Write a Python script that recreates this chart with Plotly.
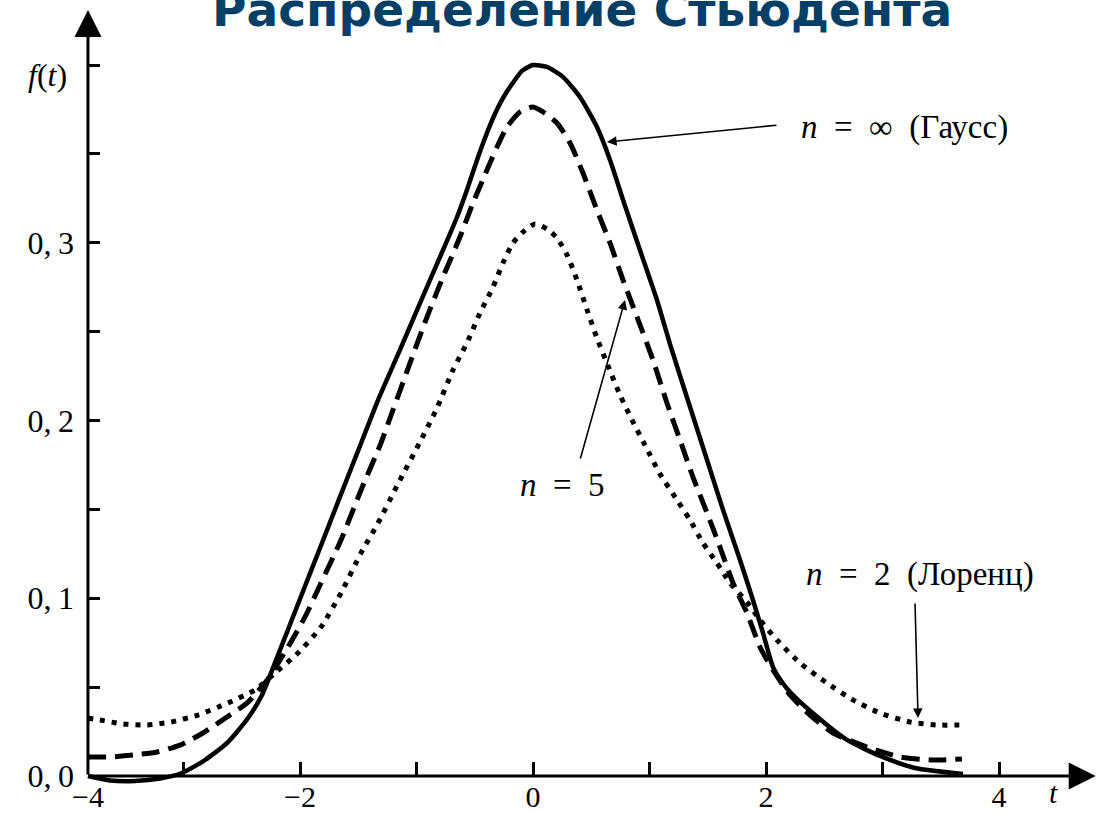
import plotly.graph_objects as go

# Student's t density curves: t values and f(t) for each series
t_gauss = [-3.820, -3.631, -3.416, -3.202, -3.013, -2.815, -2.618, -2.446, -2.326, -2.215,
           -2.000, -1.828, -1.657, -1.485, -1.330, -1.142, -0.970, -0.798, -0.652, -0.567,
           -0.489, -0.412, -0.335, -0.258, -0.180, -0.094, 0.000, 0.120, 0.258, 0.403, 0.549,
           0.661, 0.773, 0.918, 1.064, 1.176, 1.348, 1.494, 1.631, 1.777, 1.888,
           1.974, 2.060, 2.137, 2.206, 2.421, 2.695, 2.979, 3.279, 3.691]
f_gauss = [0.0000, -0.0025, -0.0028, -0.0014, 0.0017, 0.0090, 0.0191, 0.0326, 0.0456, 0.0636,
           0.0996, 0.1283, 0.1570, 0.1857, 0.2115, 0.2397, 0.2661, 0.2920, 0.3145, 0.3297,
           0.3449, 0.3589, 0.3713, 0.3814, 0.3893, 0.3967, 0.4000, 0.3989, 0.3932, 0.3820, 0.3651,
           0.3466, 0.3241, 0.2959, 0.2678, 0.2430, 0.2076, 0.1778, 0.1497, 0.1215, 0.0990,
           0.0805, 0.0613, 0.0529, 0.0473, 0.0343, 0.0203, 0.0113, 0.0045, 0.0011]

t_n5 = [-3.820, -3.631, -3.433, -3.227, -3.030, -2.833, -2.627, -2.446, -2.275, -2.103,
        -1.957, -1.820, -1.648, -1.476, -1.305, -1.202, -1.056, -0.910, -0.773, -0.627,
        -0.515, -0.395, -0.309, -0.223, -0.112, 0.000, 0.086, 0.206, 0.318, 0.429,
        0.549, 0.661, 0.773, 0.893, 1.030, 1.150, 1.262, 1.373, 1.494, 1.605,
        1.717, 1.837, 1.948, 2.060, 2.206, 2.378, 2.575, 2.867, 3.150, 3.433, 3.682]
f_n5 = [0.0107, 0.0107, 0.0118, 0.0135, 0.0174, 0.0242, 0.0332, 0.0416, 0.0546, 0.0726,
        0.0895, 0.1086, 0.1328, 0.1609, 0.1873, 0.2059, 0.2323, 0.2582, 0.2807, 0.3032,
        0.3224, 0.3409, 0.3539, 0.3651, 0.3736, 0.3764, 0.3736, 0.3674, 0.3561, 0.3392,
        0.3184, 0.2999, 0.2790, 0.2582, 0.2340, 0.2098, 0.1890, 0.1682, 0.1480, 0.1288,
        0.1086, 0.0917, 0.0726, 0.0596, 0.0456, 0.0343, 0.0242, 0.0163, 0.0107, 0.0090, 0.0096]

t_n2 = [-3.820, -3.717, -3.519, -3.313, -3.107, -2.876, -2.618, -2.386, -2.215, -2.017,
        -1.820, -1.648, -1.476, -1.330, -1.142, -0.970, -0.824, -0.687, -0.567, -0.455,
        -0.343, -0.258, -0.172, -0.086, 0.017, 0.120, 0.206, 0.292, 0.378, 0.464,
        0.549, 0.644, 0.747, 0.850, 0.961, 1.090, 1.236, 1.348, 1.459, 1.579,
        1.691, 1.837, 1.948, 2.094, 2.292, 2.524, 2.747, 2.979, 3.236, 3.468, 3.691]
f_n2 = [0.0326, 0.0315, 0.0293, 0.0287, 0.0304, 0.0343, 0.0411, 0.0484, 0.0579, 0.0692,
        0.0838, 0.1030, 0.1255, 0.1423, 0.1665, 0.1879, 0.2070, 0.2284, 0.2436, 0.2605,
        0.2751, 0.2886, 0.2999, 0.3060, 0.3106, 0.3077, 0.3027, 0.2931, 0.2790, 0.2622,
        0.2464, 0.2307, 0.2143, 0.2003, 0.1862, 0.1699, 0.1553, 0.1440, 0.1311, 0.1198,
        0.1086, 0.0979, 0.0878, 0.0765, 0.0636, 0.0523, 0.0428, 0.0354, 0.0304, 0.0287, 0.0287]

# axis ticks
x_ticks = [-3, -2, -1, 0, 1, 2, 3, 4]
x_tick_text = ["", "\u22122", "", "0", "", "2", "", "4"]
y_ticks = [0.0, 0.05, 0.1, 0.15, 0.2, 0.25, 0.3, 0.35, 0.4]
y_tick_text = ["0,\u20090", "", "0,\u20091", "", "0,\u20092", "", "0,\u20093", "", ""]

T_MIN, T_MAX = -3.82, 4.83      # extent of the drawn axes
F_TOP = 0.431                   # tip of the vertical axis arrow
F_XLABEL = -0.0118              # level of the labels under the horizontal axis

SERIF = "Liberation Serif"
BLACK = "#000000"

fig = go.Figure()
fig.add_trace(go.Scatter(x=t_n2, y=f_n2, mode="lines",
                         line=dict(color=BLACK, width=5, dash="5px,7px", shape="spline", smoothing=0.6)))
fig.add_trace(go.Scatter(x=t_n5, y=f_n5, mode="lines",
                         line=dict(color=BLACK, width=5, dash="18px,9px", shape="spline", smoothing=0.6)))
fig.add_trace(go.Scatter(x=t_gauss, y=f_gauss, mode="lines",
                         line=dict(color=BLACK, width=4.5, shape="spline", smoothing=0.6)))

W, H = 1097, 813
x_range = [-533 / 116.5, 564 / 116.5]
y_range = [-37 / 1777.5, 776 / 1777.5]

fig.update_layout(
    width=W, height=H,
    margin=dict(l=0, r=0, t=0, b=0),
    paper_bgcolor="white", plot_bgcolor="white",
    showlegend=False,
    xaxis=dict(range=x_range, anchor="free", position=37 / H, automargin=False,
               showgrid=False, zeroline=False, showline=False,
               tickmode="array", tickvals=x_ticks, ticktext=x_tick_text,
               ticks="inside", ticklen=14, tickwidth=2.5, tickcolor=BLACK,
               ticklabelstandoff=0,
               tickfont=dict(family=SERIF, size=30, color=BLACK)),
    yaxis=dict(range=y_range, anchor="free", position=88 / W, automargin=False,
               showgrid=False, zeroline=False, showline=False,
               tickmode="array", tickvals=y_ticks, ticktext=y_tick_text,
               ticks="inside", ticklen=11, tickwidth=2.5, tickcolor=BLACK,
               ticklabelstandoff=14,
               tickfont=dict(family=SERIF, size=32, color=BLACK)),
)

# axes drawn as arrows
fig.add_annotation(x=T_MAX, y=0, ax=T_MIN, ay=0, xref="x", yref="y", axref="x", ayref="y",
                   text="", showarrow=True, arrowhead=2, arrowsize=1.8, arrowwidth=3, arrowcolor=BLACK)
fig.add_annotation(x=T_MIN, y=F_TOP, ax=T_MIN, ay=0, xref="x", yref="y", axref="x", ayref="y",
                   text="", showarrow=True, arrowhead=2, arrowsize=1.8, arrowwidth=3, arrowcolor=BLACK)

fig.add_annotation(x=T_MIN, y=F_XLABEL, xref="x", yref="y", text="\u22124", showarrow=False,
                   xanchor="center", yanchor="middle", font=dict(family=SERIF, size=30, color=BLACK))
fig.add_annotation(x=4.464, y=-0.0095, xref="x", yref="y", text="<i>t</i>", showarrow=False,
                   xanchor="center", yanchor="middle", font=dict(family=SERIF, size=30, color=BLACK))
fig.add_annotation(x=-4.17, y=0.3944, xref="x", yref="y", text="<i>f</i>(<i>t</i>)", showarrow=False,
                   xanchor="center", yanchor="middle", font=dict(family=SERIF, size=32, color=BLACK))

# curve labels with pointer arrows
label_font = dict(family=SERIF, size=33, color=BLACK)
NB = "\u00a0"
fig.add_annotation(x=3.185, y=0.3651, xref="x", yref="y",
                   text=f"<i>n</i>{NB}{NB}={NB}{NB}∞{NB}{NB}(Гаусс)", showarrow=False, font=label_font)
fig.add_annotation(x=0.635, y=0.3567, ax=2.103, ay=0.3662, xref="x", yref="y", axref="x", ayref="y",
                   text="", showarrow=True, arrowhead=2, arrowsize=1.2, arrowwidth=1.6, arrowcolor=BLACK)

fig.add_annotation(x=0.249, y=0.1637, xref="x", yref="y",
                   text=f"<i>n</i>{NB}{NB}={NB}{NB}5", showarrow=False, font=label_font)
fig.add_annotation(x=0.790, y=0.2678, ax=0.403, ay=0.1778, xref="x", yref="y", axref="x", ayref="y",
                   text="", showarrow=True, arrowhead=2, arrowsize=1.2, arrowwidth=1.6, arrowcolor=BLACK)

fig.add_annotation(x=3.322, y=0.1131, xref="x", yref="y",
                   text=f"<i>n</i>{NB}{NB}={NB}{NB}2{NB}{NB}(Лоренц)", showarrow=False, font=label_font)
fig.add_annotation(x=3.305, y=0.0326, ax=3.279, ay=0.0979, xref="x", yref="y", axref="x", ayref="y",
                   text="", showarrow=True, arrowhead=2, arrowsize=1.2, arrowwidth=1.6, arrowcolor=BLACK)

# title
fig.add_annotation(x=582 / W, y=1 - 39 / H, xref="paper", yref="paper",
                   text="Распределение Стьюдента", showarrow=False,
                   xanchor="center", yanchor="bottom",
                   font=dict(family="DejaVu Sans", size=47, color="#063f66", weight="bold"))

fig.write_html("out.html")
